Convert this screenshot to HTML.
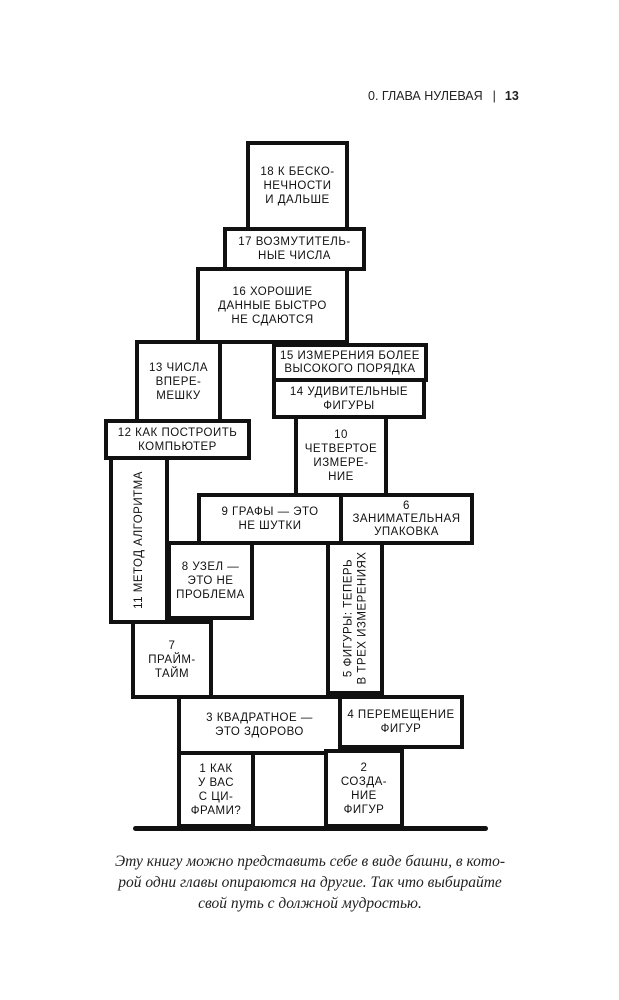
<!DOCTYPE html>
<html><head><meta charset="utf-8"><style>
body{margin:0;width:619px;height:1000px;background:#fff;position:relative;overflow:hidden;font-family:"Liberation Sans","DejaVu Sans",sans-serif}
.b{position:absolute;box-sizing:border-box;border:4px solid #111;background:#fff;display:flex;align-items:center;justify-content:center;text-align:center;font-size:11.5px;line-height:14px;color:#111;letter-spacing:0.5px}
.v{position:absolute;white-space:nowrap;font-size:11.5px;line-height:14px;text-align:center;transform:rotate(-90deg);transform-origin:center}
.hd{position:absolute;top:89px;left:368px;font-size:12.5px;color:#222;white-space:nowrap}
.cap{position:absolute;top:851px;left:40px;width:540px;text-align:center;font-family:"Liberation Serif",serif;font-style:italic;font-size:15.5px;line-height:21px;color:#222}
</style></head><body>
<div class="hd">0. ГЛАВА НУЛЕВАЯ<span style="margin:0 9px 0 10px">|</span><b>13</b></div>

<div class="b" style="left:246px;top:141px;width:103px;height:90px">18 К БЕСКО-<br>НЕЧНОСТИ<br>И ДАЛЬШЕ</div>
<div class="b" style="left:223px;top:227px;width:143px;height:44px">17 ВОЗМУТИТЕЛЬ-<br>НЫЕ ЧИСЛА</div>
<div class="b" style="left:196px;top:267px;width:153px;height:77px">16 ХОРОШИЕ<br>ДАННЫЕ БЫСТРО<br>НЕ СДАЮТСЯ</div>
<div class="b" style="left:135px;top:340px;width:87px;height:84px">13 ЧИСЛА<br>ВПЕРЕ-<br>МЕШКУ</div>
<div class="b" style="left:272px;top:343px;width:156px;height:39px;line-height:13px">15 ИЗМЕРЕНИЯ БОЛЕЕ<br>ВЫСОКОГО ПОРЯДКА</div>
<div class="b" style="left:272px;top:378px;width:154px;height:41px">14 УДИВИТЕЛЬНЫЕ<br>ФИГУРЫ</div>
<div class="b" style="left:104px;top:419px;width:147px;height:41px">12 КАК ПОСТРОИТЬ<br>КОМПЬЮТЕР</div>
<div class="b" style="left:294px;top:415px;width:94px;height:82px">10<br>ЧЕТВЕРТОЕ<br>ИЗМЕРЕ-<br>НИЕ</div>
<div class="b" style="left:109px;top:456px;width:60px;height:168px"><div class="v">11 МЕТОД АЛГОРИТМА</div></div>
<div class="b" style="left:197px;top:493px;width:146px;height:52px">9 ГРАФЫ — ЭТО<br>НЕ ШУТКИ</div>
<div class="b" style="left:339px;top:493px;width:135px;height:52px;line-height:13px">6<br>ЗАНИМАТЕЛЬНАЯ<br>УПАКОВКА</div>
<div class="b" style="left:167px;top:541px;width:87px;height:79px">8 УЗЕЛ —<br>ЭТО НЕ<br>ПРОБЛЕМА</div>
<div class="b" style="left:326px;top:541px;width:58px;height:154px"><div class="v">5 ФИГУРЫ: ТЕПЕРЬ<br>В ТРЕХ ИЗМЕРЕНИЯХ</div></div>
<div class="b" style="left:131px;top:620px;width:82px;height:79px">7<br>ПРАЙМ-<br>ТАЙМ</div>
<div class="b" style="left:177px;top:695px;width:165px;height:60px">3 КВАДРАТНОЕ —<br>ЭТО ЗДОРОВО</div>
<div class="b" style="left:338px;top:695px;width:126px;height:54px">4 ПЕРЕМЕЩЕНИЕ<br>ФИГУР</div>
<div class="b" style="left:177px;top:751px;width:78px;height:77px">1 КАК<br>У ВАС<br>С ЦИ-<br>ФРАМИ?</div>
<div class="b" style="left:324px;top:749px;width:80px;height:79px">2<br>СОЗДА-<br>НИЕ<br>ФИГУР</div>
<div style="position:absolute;left:133px;top:826px;width:355px;height:5px;background:#111;border-radius:3px"></div>

<div class="cap">Эту книгу можно представить себе в виде башни, в кото-<br>рой одни главы опираются на другие. Так что выбирайте<br>свой путь с должной мудростью.</div>
</body></html>
